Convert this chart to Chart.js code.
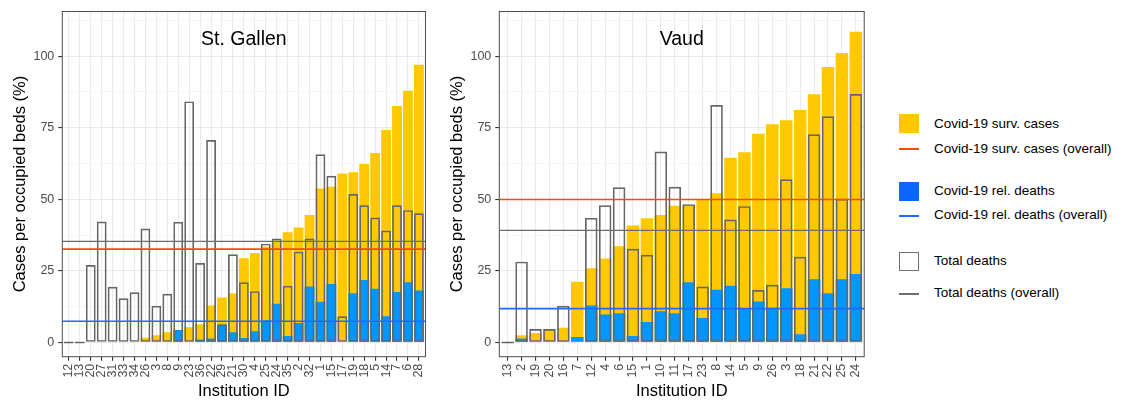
<!DOCTYPE html>
<html>
<head>
<meta charset="utf-8">
<title>Cases per occupied beds</title>
<script src="https://cdn.jsdelivr.net/npm/chart.js@4.4.1/dist/chart.umd.min.js"></script>
<style>
  html, body { margin: 0; padding: 0; background: #fff; }
  body { width: 1130px; height: 402px; position: relative; overflow: hidden;
         font-family: 'Liberation Sans', Arial, sans-serif; }
  .panel { position: absolute; top: 0; }
  .key { position: absolute; left: 899px; width: 20px; box-sizing: border-box; }
  .lbl { position: absolute; left: 934px; font-size: 13.5px; line-height: 16px;
         color: #000; white-space: nowrap; transform: translateY(-50%); }
</style>
</head>
<body>
<canvas id="stgallen" class="panel" style="left:0" width="437" height="402"></canvas>
<canvas id="vaud" class="panel" style="left:437px" width="437" height="402"></canvas>

<div class="key" style="top:114px;height:19px;background:#FFC800"></div>
<div class="lbl" style="top:124px">Covid-19 surv. cases</div>
<div class="key" style="top:148px;height:2px;background:#FF4A00"></div>
<div class="lbl" style="top:148.5px">Covid-19 surv. cases (overall)</div>

<div class="key" style="top:181.5px;height:19px;background:#0A66FF"></div>
<div class="lbl" style="top:190.8px">Covid-19 rel. deaths</div>
<div class="key" style="top:215px;height:2px;background:#1F6BFF"></div>
<div class="lbl" style="top:215px">Covid-19 rel. deaths (overall)</div>

<div class="key" style="top:251.5px;height:19px;border:1.5px solid #707070;background:#fff"></div>
<div class="lbl" style="top:261px">Total deaths</div>
<div class="key" style="top:293px;height:2px;background:#6E6E6E"></div>
<div class="lbl" style="top:292.8px">Total deaths (overall)</div>

<script>
// St. Gallen, institutions ordered by surveillance cases
const sgIds = ['12', '13', '20', '27', '31', '33', '34', '26', '3', '8', '9', '23', '36', '22', '29', '21', '30',
               '4', '25', '24', '35', '2', '32', '1', '15', '17', '19', '18', '5', '14', '7', '6', '28'];
const sgCases = [0, 0, 0, 0, 0, 0, 0, 1.6, 2.5, 3.5, 4.3, 5.3, 6.3, 12.9, 15.7, 17.1, 29.4,
                 31.2, 33.5, 35.6, 38.5, 40.1, 44.5, 53.8, 54.4, 59.0, 59.4, 62.3, 66.2, 74.2, 82.6, 87.9, 97.0];
const sgRelDeaths = [0, 0, 0, 0, 0, 0, 0, 0, 0, 0, 4.3, 0, 1.0, 1.4, 6.2, 3.5, 1.5,
                     3.9, 7.7, 13.5, 2.2, 6.8, 19.5, 14.2, 20.4, 0, 17.2, 21.8, 18.7, 9.1, 17.6, 21.0, 18.1];
const sgTotalDeaths = [0, 0, 27.0, 42.2, 19.4, 15.4, 17.5, 39.8, 12.8, 17.0, 42.1, 84.2, 27.7, 70.7, 6.3, 30.8, 21.0,
                       17.9, 34.5, 36.3, 19.8, 31.7, 36.3, 65.7, 58.2, 9.1, 51.8, 47.9, 43.6, 39.1, 47.9, 46.2, 45.1];
// overall: cases, rel. deaths, total deaths
const sgOverall = [32.6, 7.4, 35.3];

// Vaud
const vdIds = ['13', '2', '19', '20', '16', '7', '12', '4', '6', '15', '1', '10', '11',
               '17', '23', '8', '14', '5', '9', '26', '3', '18', '21', '22', '25', '24'];
const vdCases = [0, 2.5, 3.3, 4.6, 5.1, 21.2, 25.9, 29.3, 33.6, 40.8, 43.4, 44.5, 47.7,
                 48.0, 49.8, 52.1, 64.5, 66.4, 72.9, 76.2, 77.6, 81.2, 86.7, 96.2, 101.1, 108.5];
const vdRelDeaths = [0, 1.4, 0, 0, 0, 1.9, 12.9, 9.7, 10.2, 2.2, 7.1, 10.9, 10.2,
                     21.0, 8.5, 18.4, 19.8, 12.0, 14.3, 12.1, 18.9, 2.8, 22.1, 17.2, 22.1, 23.9];
const vdTotalDeaths = [0, 28.2, 4.7, 4.7, 12.8, null, 43.5, 47.9, 54.2, 32.7, 30.6, 66.7, 54.4,
                       48.3, 19.5, 82.9, 42.9, 47.6, 18.3, 20.1, 57.0, 29.9, 72.7, 79.0, 50.2, 86.8];
const vdOverall = [49.9, 11.8, 39.1];

const yTickValues = [0, 25, 50, 75, 100];

const YELLOW = '#FFC800';
const BLUE = '#0096FF';
const OUTLINE = '#666666';
const LINE_COLOURS = ['#FF4A00', '#1F6BFF', '#6E6E6E'];
const FONT = "'Liberation Sans', Arial, sans-serif";

Chart.defaults.font.family = FONT;
Chart.defaults.color = '#4D4D4D';

// grid: major at the labelled ticks, minor half way between
const gridValues = [];
yTickValues.forEach(v => { gridValues.push(v); gridValues.push(v + 12.5); });
const isMajor = v => yTickValues.includes(v);

const toPoints = vals => vals.map((v, i) => ({ x: i, y: v }));
const hline = (v, n) => [{ x: -0.6, y: v }, { x: n - 0.4, y: v }];

// panel frame + facet title inside the panel
const panelDecor = {
    id: 'panelDecor',
    afterDraw(chart, args, opts) {
        const { ctx, chartArea: a } = chart;
        ctx.save();
        ctx.strokeStyle = '#4D4D4D';
        ctx.lineWidth = 1;
        ctx.strokeRect(a.left, a.top, a.right - a.left, a.bottom - a.top);
        ctx.fillStyle = '#000';
        ctx.font = '19.5px ' + FONT;
        ctx.textAlign = 'center';
        ctx.textBaseline = 'middle';
        ctx.fillText(opts.text, (a.left + a.right) / 2, a.top + 28.5);
        ctx.restore();
    }
};

function makeChart(canvasId, title, ids, cases, relDeaths, totalDeaths, overall, padRight) {
    const n = ids.length;
    const barOpts = { grouped: false, barPercentage: 0.9, categoryPercentage: 1 };

    const datasets = [
        { type: 'bar', label: 'Covid-19 surv. cases', data: toPoints(cases),
          backgroundColor: YELLOW, borderWidth: 0, order: 3, ...barOpts },
        { type: 'bar', label: 'Covid-19 rel. deaths', data: toPoints(relDeaths),
          backgroundColor: BLUE, borderWidth: 0, order: 2, ...barOpts },
        { type: 'bar', label: 'Total deaths', data: toPoints(totalDeaths),
          backgroundColor: 'rgba(0,0,0,0)', borderColor: OUTLINE, borderWidth: 1.7,
          borderSkipped: false, minBarLength: 2, order: 1, ...barOpts }
    ];
    overall.forEach((v, k) => {
        datasets.push({ type: 'line', data: hline(v, n), borderColor: LINE_COLOURS[k],
                        borderWidth: k === 2 ? 1.3 : 1.6, pointRadius: 0, order: 0 });
    });

    return new Chart(document.getElementById(canvasId), {
        type: 'bar',
        data: { datasets },
        options: {
            responsive: false,
            animation: false,
            devicePixelRatio: 1,
            layout: { padding: { top: 8.3, right: padRight, bottom: 0, left: 0 } },
            plugins: {
                legend: { display: false },
                tooltip: { enabled: false },
                panelDecor: { text: title }
            },
            scales: {
                x: {
                    type: 'linear',
                    bounds: 'data',
                    min: -0.6,
                    max: n - 0.4,
                    offset: false,
                    afterBuildTicks: s => { s.ticks = ids.map((_, i) => ({ value: i })); },
                    afterFit: s => { s.height = 45.3; },
                    grid: { offset: false, color: '#EBEBEB', lineWidth: 1.1, tickLength: 4, tickColor: '#333' },
                    border: { display: false },
                    ticks: {
                        autoSkip: false, maxRotation: 90, minRotation: 90, padding: 3,
                        font: { size: 12.5 }, color: '#4D4D4D',
                        callback: v => ids[v]
                    },
                    title: { display: true, text: 'Institution ID', color: '#000',
                             font: { size: 16.5 }, padding: { top: 0, bottom: 0.5 } }
                },
                y: {
                    type: 'linear',
                    bounds: 'data',
                    min: -5,
                    max: 115.6,
                    afterBuildTicks: s => { s.ticks = gridValues.map(v => ({ value: v })); },
                    afterFit: s => { s.width = 62.3; },
                    grid: {
                        color: c => isMajor(c.tick.value) ? '#EBEBEB' : '#F3F3F3',
                        lineWidth: c => isMajor(c.tick.value) ? 1.1 : 0.8,
                        tickLength: 4,
                        tickColor: c => isMajor(c.tick.value) ? '#333' : 'rgba(0,0,0,0)'
                    },
                    border: { display: false },
                    ticks: {
                        padding: 4, font: { size: 12.5 }, color: '#4D4D4D',
                        callback: v => isMajor(v) ? String(v) : ''
                    },
                    title: { display: true, text: 'Cases per occupied beds (%)', color: '#000',
                             font: { size: 16.5 }, padding: { top: 10.4, bottom: 0 } }
                }
            }
        },
        plugins: [panelDecor]
    });
}

makeChart('stgallen', 'St. Gallen', sgIds, sgCases, sgRelDeaths, sgTotalDeaths, sgOverall, 5.3);
makeChart('vaud', 'Vaud', vdIds, vdCases, vdRelDeaths, vdTotalDeaths, vdOverall, 6.3);
</script>
</body>
</html>
